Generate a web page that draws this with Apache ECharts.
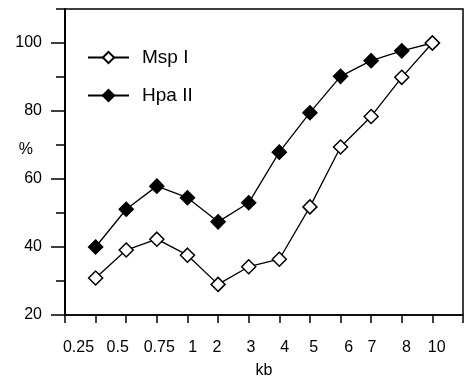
<!DOCTYPE html>
<html>
<head>
<meta charset="utf-8">
<script src="https://cdn.jsdelivr.net/npm/echarts@6/dist/echarts.min.js"></script>
<style>
  html, body { margin: 0; padding: 0; background: #fff; }
  #chart { width: 469px; height: 376px; }
</style>
</head>
<body>
<div id="chart"></div>
<script>
// x positions of the points (one slot per size class)
const xPos = [1, 2, 3, 4, 5, 6, 7, 8, 9, 10, 11, 12];
// tick labels and where they sit on the axis
const kbLabels = ['0.25', '0.5', '0.75', '1', '2', '3', '4', '5', '6', '7', '8', '10'];
const kbLabelPos = [0.44, 1.72, 3.08, 4.17, 4.96, 6.07, 7.18, 8.12, 9.27, 10.03, 11.15, 12.14];
// series values (%)
const mspI = [30.9, 39.1, 42.3, 37.6, 29.0, 34.2, 36.4, 51.8, 69.4, 78.4, 89.9, 100];
const hpaII = [40.0, 51.1, 57.9, 54.5, 47.4, 53.0, 67.9, 79.5, 90.2, 94.8, 97.7, 100];

const FONT = '"Liberation Sans", Arial, sans-serif';
const black = '#000';

const toPairs = (xs, ys) => xs.map((x, i) => [x, ys[i]]);

const chart = echarts.init(document.getElementById('chart'));
chart.setOption({
  animation: false,
  backgroundColor: '#fff',
  grid: {
    left: 65, right: 6, top: 9, bottom: 61, outerBoundsMode: 'none',
    show: true, borderColor: black, borderWidth: 1.5, backgroundColor: 'transparent'
  },
  legend: {
    left: 87, top: 48, orient: 'vertical', padding: 0,
    itemWidth: 41, itemHeight: 14, itemGap: 19,
    textStyle: { fontFamily: FONT, fontSize: 19, color: black, padding: [0, 0, 0, 8] },
    data: ['Msp I', 'Hpa II']
  },
  xAxis: {
    type: 'value', min: 0, max: 13, interval: 1,
    name: 'kb', nameLocation: 'middle', nameGap: 48,
    nameTextStyle: { fontFamily: FONT, fontSize: 16, color: black },
    axisLine: { lineStyle: { color: black, width: 1.5 } },
    axisTick: { show: true, length: 8, lineStyle: { color: black, width: 1.5 } },
    splitLine: { show: false },
    axisLabel: {
      customValues: kbLabelPos,
      margin: 25,
      fontFamily: FONT, fontSize: 16, color: black,
      formatter: v => kbLabels[kbLabelPos.indexOf(v)] ?? ''
    }
  },
  yAxis: [{
    type: 'value', min: 20, max: 110, interval: 20, position: 'left',
    name: '%', nameLocation: 'middle', nameGap: 32, nameRotate: 0, nameMoveOverlap: false,
    nameTextStyle: { fontFamily: FONT, fontSize: 16, color: black, verticalAlign: 'bottom', padding: [0, 0, 4, 0] },
    axisLine: { show: true, lineStyle: { color: black, width: 1.5 } },
    axisTick: { show: true, length: 14, lineStyle: { color: black, width: 1.5 } },
    splitLine: { show: false },
    axisLabel: { showMaxLabel: false, margin: 23, fontFamily: FONT, fontSize: 16, color: black }
  }, {
    type: 'value', min: 20, max: 110, interval: 10, position: 'left', offset: 0,
    axisLine: { show: true, lineStyle: { color: black, width: 1.5 } },
    axisTick: { show: true, length: 9, lineStyle: { color: black, width: 1.5 } },
    axisLabel: { show: false },
    splitLine: { show: false }
  }],
  series: [{
    name: 'Msp I', type: 'line', data: toPairs(xPos, mspI),
    symbol: 'diamond', symbolSize: 14,
    lineStyle: { color: black, width: 1.3 },
    itemStyle: { color: '#fff', borderColor: black, borderWidth: 1.5 },
    z: 3
  }, {
    name: 'Hpa II', type: 'line', data: toPairs(xPos, hpaII),
    symbol: 'diamond', symbolSize: 14,
    lineStyle: { color: black, width: 1.3 },
    itemStyle: { color: black, borderColor: black, borderWidth: 1.5 },
    z: 2
  }]
});
</script>
</body>
</html>
